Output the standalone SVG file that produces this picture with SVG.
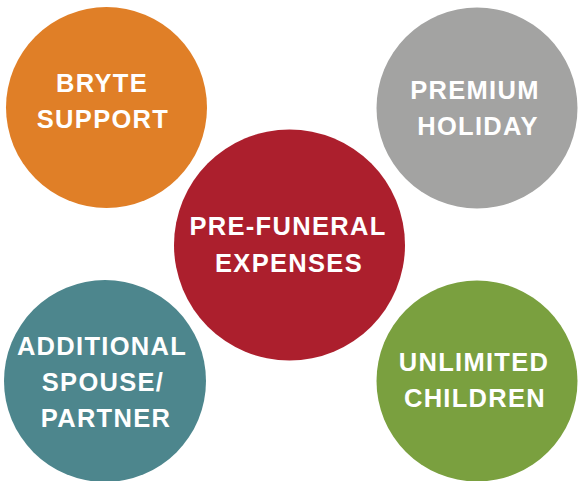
<svg xmlns="http://www.w3.org/2000/svg" width="578" height="481" viewBox="0 0 578 481">
<style>
.lbl{font-family:"Liberation Sans",Arial,sans-serif;font-weight:bold;font-size:25.5px;fill:#ffffff;text-anchor:middle;letter-spacing:1.3px}
</style>
<rect width="578" height="481" fill="#ffffff"/>
<g id="connectors"></g>
<g id="bryte-support">
<circle cx="106.5" cy="107.5" r="100.5" fill="#E07F27"/>
<text class="lbl" x="102" y="92">BRYTE</text>
<text class="lbl" x="103" y="128">SUPPORT</text>
</g>
<g id="premium-holiday">
<circle cx="477" cy="108" r="100.5" fill="#A3A3A2"/>
<text class="lbl" x="475" y="99">PREMIUM</text>
<text class="lbl" x="478" y="135">HOLIDAY</text>
</g>
<g id="pre-funeral-expenses">
<circle cx="289.5" cy="245" r="115.5" fill="#AC1F2D"/>
<text class="lbl" x="288" y="235">PRE-FUNERAL</text>
<text class="lbl" x="289" y="272">EXPENSES</text>
</g>
<g id="additional-spouse-partner">
<circle cx="105" cy="381" r="101" fill="#4D868D"/>
<text class="lbl" x="102" y="355">ADDITIONAL</text>
<text class="lbl" x="103" y="391">SPOUSE/</text>
<text class="lbl" x="106" y="427">PARTNER</text>
</g>
<g id="unlimited-children">
<circle cx="477" cy="381" r="100.5" fill="#7AA03F"/>
<text class="lbl" x="474" y="371">UNLIMITED</text>
<text class="lbl" x="475" y="407">CHILDREN</text>
</g>
</svg>
